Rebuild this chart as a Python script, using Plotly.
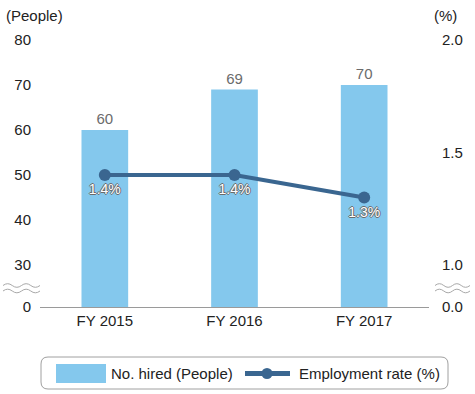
import plotly.graph_objects as go

# ---- data ----
categories = ["FY 2015", "FY 2016", "FY 2017"]
hired = [60, 69, 70]
rate = [1.4, 1.4, 1.3]
rate_labels = ["1.4%", "1.4%", "1.3%"]
left_tick_values = [30, 40, 50, 60, 70, 80]
right_tick_values = [1.0, 1.5, 2.0]

# ---- layout geometry (pixels) ----
WIDTH, HEIGHT = 475, 394
ML, MR, MT, MB = 40, 46, 40, 87
PW = WIDTH - ML - MR
PH = HEIGHT - MT - MB
PX_PER_UNIT = 4.5               # pixels per person on the left axis
Y_TOP = 80
Y_BOT = Y_TOP - PH / PX_PER_UNIT  # broken axis: "0" sits at the bottom
# right axis aligned so 1.0 <-> 30 and 2.0 <-> 80
R_SCALE = 50.0
def r_from_l(v):
    return 1.0 + (v - 30) / R_SCALE
R_BOT, R_TOP = r_from_l(Y_BOT), r_from_l(Y_TOP)

FONT = "Liberation Sans, Arial, sans-serif"
BAR_COLOR = "#84c8ed"
LINE_COLOR = "#3a6690"
TEXT = "#222222"

def px(x):
    return (x - ML) / PW

def py(y):
    return (HEIGHT - MB - y) / PH

fig = go.Figure()

fig.add_trace(go.Bar(
    x=categories, y=hired, width=0.36, marker=dict(color=BAR_COLOR, line=dict(width=0)),
    text=[str(v) for v in hired], textposition="outside", cliponaxis=False,
    textfont=dict(family=FONT, size=15, color="#6b6b6b"),
    showlegend=False, hoverinfo="skip",
))

fig.add_trace(go.Scatter(
    x=categories, y=rate, yaxis="y2", mode="lines+markers+text",
    line=dict(color=LINE_COLOR, width=4),
    marker=dict(color=LINE_COLOR, size=12),
    text=rate_labels, textposition="bottom center",
    textfont=dict(family=FONT, size=14, color="white",
                  shadow="1px 0 0 #6a6a6a, -1px 0 0 #6a6a6a, 0 1px 0 #6a6a6a, 0 -1px 0 #6a6a6a"),
    showlegend=False, hoverinfo="skip", cliponaxis=False,
))

shapes = []

def wave(x0, x1, yc, amp=1.8, periods=2):
    seg = (x1 - x0) / (periods * 2)
    d = f"M{px(x0)},{py(yc)}"
    x = x0
    up = True
    for i in range(periods * 2):
        cx = x + seg / 2
        cy = yc - amp * 2 if up else yc + amp * 2
        x2 = x + seg
        d += f" Q{px(cx)},{py(cy)} {px(x2)},{py(yc)}"
        x = x2
        up = not up
    return dict(type="path", xref="paper", yref="paper", path=d,
                line=dict(color="#a8a8a8", width=1))

for yc in (285.5, 291):
    shapes.append(wave(3, 40, yc))
    shapes.append(wave(435, 470, yc))

# legend box (rounded)
lx0, lx1, ly0, ly1, rr = 41, 448, 357, 389, 7
path = (f"M{px(lx0+rr)},{py(ly0)} L{px(lx1-rr)},{py(ly0)} Q{px(lx1)},{py(ly0)} {px(lx1)},{py(ly0+rr)} "
        f"L{px(lx1)},{py(ly1-rr)} Q{px(lx1)},{py(ly1)} {px(lx1-rr)},{py(ly1)} "
        f"L{px(lx0+rr)},{py(ly1)} Q{px(lx0)},{py(ly1)} {px(lx0)},{py(ly1-rr)} "
        f"L{px(lx0)},{py(ly0+rr)} Q{px(lx0)},{py(ly0)} {px(lx0+rr)},{py(ly0)} Z")
shapes.append(dict(type="path", xref="paper", yref="paper", path=path,
                   line=dict(color="#a0a0a0", width=1), fillcolor="white"))
# legend swatch for bars
shapes.append(dict(type="rect", xref="paper", yref="paper",
                   x0=px(56), x1=px(106), y0=py(383), y1=py(364),
                   fillcolor=BAR_COLOR, line=dict(width=0)))
# legend symbol for line
shapes.append(dict(type="line", xref="paper", yref="paper",
                   x0=px(245), x1=px(290), y0=py(373.5), y1=py(373.5),
                   line=dict(color=LINE_COLOR, width=5)))
shapes.append(dict(type="circle", xref="paper", yref="paper",
                   x0=px(261.5), x1=px(272.5), y0=py(379), y1=py(368),
                   fillcolor=LINE_COLOR, line=dict(width=0)))

annotations = [
    dict(text="(People)", xref="paper", yref="paper", x=px(4), y=py(15),
         xanchor="left", yanchor="middle", showarrow=False,
         font=dict(family=FONT, size=15, color=TEXT)),
    dict(text="(%)", xref="paper", yref="paper", x=px(445), y=py(15),
         xanchor="center", yanchor="middle", showarrow=False,
         font=dict(family=FONT, size=15, color=TEXT)),
    dict(text="No. hired (People)", xref="paper", yref="paper", x=px(109), y=py(373.5),
         xanchor="left", yanchor="middle", showarrow=False,
         font=dict(family=FONT, size=15, color=TEXT)),
    dict(text="Employment rate (%)", xref="paper", yref="paper", x=px(297), y=py(373.5),
         xanchor="left", yanchor="middle", showarrow=False,
         font=dict(family=FONT, size=15, color=TEXT)),
]

fig.update_layout(
    width=WIDTH, height=HEIGHT,
    margin=dict(l=ML, r=MR, t=MT, b=MB, pad=0),
    paper_bgcolor="white", plot_bgcolor="white",
    font=dict(family=FONT, size=15, color=TEXT),
    bargap=0.64,
    xaxis=dict(type="category", showline=True, linecolor="#9a9a9a", linewidth=1.3,
               showgrid=False, zeroline=False, ticks="", fixedrange=True,
               tickfont=dict(family=FONT, size=15, color=TEXT)),
    yaxis=dict(range=[Y_BOT, Y_TOP], showgrid=False, zeroline=False, showline=False,
               tickvals=[Y_BOT] + left_tick_values,
               ticktext=["0"] + [str(v) for v in left_tick_values],
               ticks="", ticklabelstandoff=8, fixedrange=True,
               tickfont=dict(family=FONT, size=15, color=TEXT)),
    yaxis2=dict(range=[R_BOT, R_TOP], overlaying="y", side="right", showgrid=False,
                zeroline=False, showline=False,
                tickvals=[R_BOT] + right_tick_values,
                ticktext=["0.0"] + [f"{v:.1f}" for v in right_tick_values],
                ticks="", ticklabelstandoff=12, fixedrange=True,
                tickfont=dict(family=FONT, size=15, color=TEXT)),
    shapes=shapes, annotations=annotations, showlegend=False,
)

fig.write_html("out.html", config={"displayModeBar": False},
               post_script="document.body.style.margin='0';")
